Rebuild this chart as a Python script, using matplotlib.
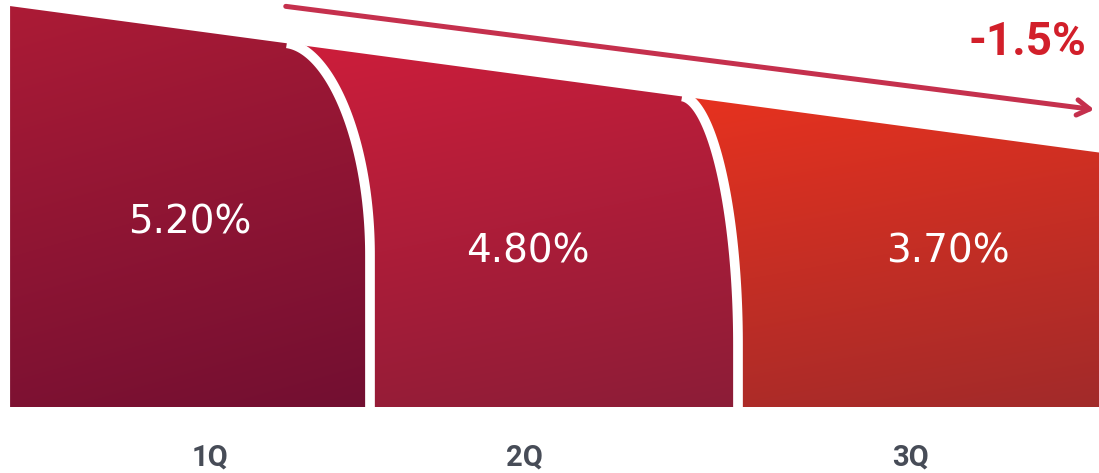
import numpy as np
import matplotlib
matplotlib.use('Agg')
import matplotlib.pyplot as plt
from matplotlib.patches import Polygon
from matplotlib.colors import to_rgb

# data
quarters = ['1Q', '2Q', '3Q']
rates = [5.20, 4.80, 3.70]
rate_labels = ['5.20%', '4.80%', '3.70%']

# colours per bar (top, bottom)
top_colors = ['#AC1B36', '#CD1E3B', '#E7321F']
bottom_colors = ['#720F31', '#8C1C37', '#A12A2A']

# layout in data units (x: one slot per quarter, y: percent)
BASE = -0.4
X_LEFT = -0.478
X_MIN, X_MAX = -0.5054, 2.481
Y_MIN, Y_MAX = -1.4, 5.767
curve_rx = [0.226, 0.152]      # horizontal extent of the rounded corner
curve_end = [1.90, 0.54]       # where the corner turns vertical
label_dx = [0.01, -0.07, 0.07]
label_y = [2.40, 1.95, 1.95]
quarter_dx = [0.065, -0.08, -0.03]

x = np.arange(len(rates))
slope, intercept = np.polyfit(x, rates, 1)


def top(u):
    return intercept + slope * np.asarray(u)


def corner(i):
    # boundary between bar i and i+1, from top to bottom,
    # starts tangent to the sloped top and ends vertical
    b = i + 0.5
    x0 = b - curve_rx[i]
    t = np.linspace(np.pi / 2, 0, 100)
    cx = x0 + curve_rx[i] * np.cos(t)
    cy = curve_end[i] + (top(cx) - curve_end[i]) * np.sin(t)
    cx = np.append(cx, b)
    cy = np.append(cy, BASE)
    return cx, cy


fig = plt.figure(figsize=(10.99, 4.73), dpi=100)
ax = fig.add_axes([0, 0, 1, 1])
ax.set_xlim(X_MIN, X_MAX)
ax.set_ylim(Y_MIN, Y_MAX)
ax.axis('off')

corners = [corner(i) for i in range(len(rates) - 1)]

for i in range(len(rates)):
    # left boundary (bottom -> top)
    if i == 0:
        lx = np.array([X_LEFT, X_LEFT])
        ly = np.array([BASE, float(top(X_LEFT))])
    else:
        lx, ly = corners[i - 1][0][::-1], corners[i - 1][1][::-1]
    # right boundary (top -> bottom)
    if i == len(rates) - 1:
        rx = np.array([X_MAX + 0.05, X_MAX + 0.05])
        ry = np.array([float(top(X_MAX + 0.05)), BASE])
    else:
        rx, ry = corners[i]
    pts = np.column_stack([np.concatenate([lx, rx]), np.concatenate([ly, ry])])
    poly = Polygon(pts, closed=True, facecolor='none', edgecolor='none')
    ax.add_patch(poly)

    # gradient, mostly vertical with a little diagonal
    xl, xr = pts[:, 0].min(), pts[:, 0].max()
    yt = pts[:, 1].max()
    gy, gx = np.mgrid[0:1:200j, 0:1:100j]
    tt = np.clip(0.8 * (1 - gy) + 0.2 * gx, 0, 1)[..., None]
    c0 = np.array(to_rgb(top_colors[i]))
    c1 = np.array(to_rgb(bottom_colors[i]))
    img = c0 * (1 - tt) + c1 * tt
    im = ax.imshow(img, extent=(xl, xr, yt, BASE), aspect='auto',
                   interpolation='bilinear', zorder=1)
    im.set_clip_path(poly)

# white gaps between bars
for cx, cy in corners:
    ax.plot(cx, cy, color='white', lw=7, solid_capstyle='butt', zorder=3)

# value labels
for i, lab in enumerate(rate_labels):
    ax.text(x[i] + label_dx[i], label_y[i], lab, ha='center', va='center',
            color='white', fontsize=28, family='DejaVu Sans', zorder=4)

# quarter labels
for i, q in enumerate(quarters):
    ax.text(x[i] + quarter_dx[i], -1.17, q, ha='center', va='center',
            color='#474C57', fontsize=21, family='Roboto', fontweight='bold')

# trend arrow and change
ax.annotate('', xy=(1097 / 1099, 1 - 110 / 473), xytext=(283 / 1099, 1 - 6 / 473),
            xycoords='axes fraction',
            arrowprops=dict(arrowstyle='->,head_length=0.9,head_width=0.55',
                            lw=3.6, color='#C5304D'), zorder=5)
change = rates[-1] - rates[0]
ax.text(1027 / 1099, 1 - 42 / 473, f'{change:.1f}%', transform=ax.transAxes,
        ha='center', va='center', color='#D21F2A', fontsize=33,
        family='Roboto', fontweight='bold')

fig.savefig('out.png', dpi=100)
